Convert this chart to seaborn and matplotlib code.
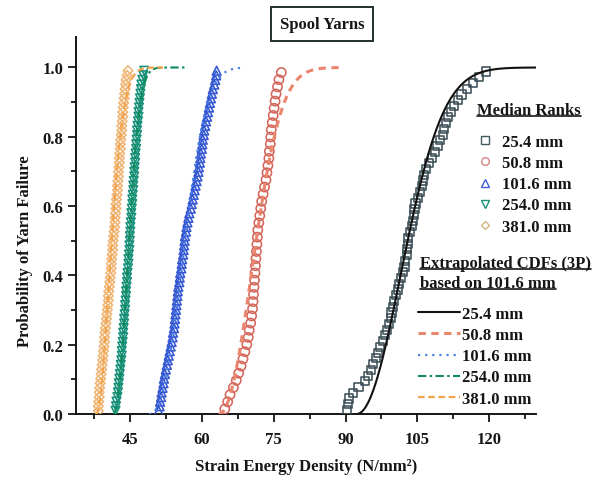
import numpy as np
import pandas as pd
import matplotlib
matplotlib.use("Agg")
import matplotlib.pyplot as plt
from matplotlib.lines import Line2D
from matplotlib.transforms import IdentityTransform
from matplotlib.ticker import MultipleLocator, FixedLocator
import seaborn as sns

# ---------------------------------------------------------------- data
gauge_labels = ["25.4 mm", "50.8 mm", "101.6 mm", "254.0 mm", "381.0 mm"]

# Sorted strain energy density at failure (N/mm^2) for each gauge length
sed_25_4 = [
    90.3, 90.5, 90.7, 91.6, 92.7, 94.0, 94.7, 95.3, 95.8, 96.3,
    96.8, 97.2, 97.8, 98.3, 98.7, 99.1, 99.4, 99.6, 99.9, 100.2,
    100.5, 100.9, 101.2, 101.6, 102.0, 102.3, 102.5, 102.8, 102.9, 103.0,
    103.1, 103.4, 103.8, 104.1, 104.2, 104.4, 104.6, 105.1, 105.6, 106.0,
    106.2, 106.4, 106.8, 107.4, 108.0, 108.6, 109.2, 109.8, 110.3, 110.6,
    111.0, 111.4, 112.0, 112.6, 113.4, 114.2, 115.4, 116.6, 117.8, 119.4,
]
sed_50_8 = [
    64.8, 65.4, 65.9, 66.6, 67.2, 67.7, 68.2, 68.6, 69.0, 69.4,
    69.7, 69.9, 70.2, 70.4, 70.6, 70.7, 70.8, 70.9, 71.0, 71.1,
    71.2, 71.3, 71.4, 71.5, 71.6, 71.7, 71.9, 72.1, 72.3, 72.5,
    72.8, 73.1, 73.4, 73.6, 73.8, 74.0, 74.1, 74.3, 74.4, 74.5,
    74.7, 74.9, 75.1, 75.3, 75.5, 75.8, 76.1, 76.6,
]
sed_101_6 = [
    51.0, 51.2, 51.3, 51.5, 51.6, 51.8, 52.0, 52.1, 52.3, 52.5,
    52.7, 52.9, 53.1, 53.3, 53.5, 53.7, 53.9, 54.0, 54.2, 54.3,
    54.4, 54.5, 54.6, 54.7, 54.8, 54.9, 55.0, 55.1, 55.3, 55.4,
    55.5, 55.7, 55.8, 55.9, 56.1, 56.2, 56.3, 56.4, 56.5, 56.7,
    56.8, 57.0, 57.2, 57.4, 57.7, 57.9, 58.1, 58.3, 58.5, 58.7,
    58.9, 59.1, 59.3, 59.4, 59.6, 59.7, 59.8, 60.0, 60.1, 60.2,
    60.4, 60.5, 60.7, 60.9, 61.1, 61.3, 61.5, 61.7, 61.9, 62.1,
    62.3, 62.6, 62.8, 63.0, 63.1,
]
sed_254_0 = [
    42.0, 42.1, 42.2, 42.4, 42.5, 42.6, 42.7, 42.8, 42.9, 43.0,
    43.1, 43.2, 43.3, 43.3, 43.4, 43.5, 43.6, 43.6, 43.7, 43.8,
    43.8, 43.9, 44.0, 44.0, 44.1, 44.2, 44.2, 44.3, 44.4, 44.4,
    44.5, 44.6, 44.7, 44.7, 44.8, 44.9, 44.9, 45.0, 45.0, 45.1,
    45.1, 45.2, 45.3, 45.3, 45.4, 45.5, 45.5, 45.6, 45.7, 45.7,
    45.8, 45.9, 45.9, 46.0, 46.1, 46.1, 46.2, 46.3, 46.3, 46.4,
    46.5, 46.5, 46.6, 46.7, 46.8, 46.8, 46.9, 47.0, 47.1, 47.2,
    47.3, 47.4, 47.6, 47.8, 48.0,
]
sed_381_0 = [
    38.4, 38.4, 38.5, 38.6, 38.6, 38.7, 38.8, 38.9, 39.0, 39.1,
    39.2, 39.3, 39.4, 39.5, 39.6, 39.7, 39.7, 39.8, 39.9, 40.0,
    40.1, 40.2, 40.3, 40.4, 40.5, 40.5, 40.6, 40.7, 40.8, 40.9,
    41.0, 41.1, 41.1, 41.2, 41.3, 41.4, 41.4, 41.5, 41.6, 41.7,
    41.8, 41.9, 41.9, 42.0, 42.1, 42.1, 42.2, 42.3, 42.4, 42.4,
    42.5, 42.6, 42.6, 42.7, 42.8, 42.8, 42.9, 43.0, 43.0, 43.1,
    43.2, 43.3, 43.3, 43.4, 43.5, 43.5, 43.6, 43.7, 43.8, 43.9,
    44.0, 44.1, 44.2, 44.4, 44.6,
]

# Three-parameter Weibull CDFs extrapolated from the 101.6 mm fit
cdf_location = [92.3, 63.5, 49.0, 41.5, 38.0]
cdf_scale = [12.76, 9.31, 8.71, 3.91, 3.88]
cdf_shape = [2.04, 2.14, 2.43, 2.19, 1.89]
cdf_upper = [129.7, 89.0, 68.6, 57.1, 51.9]

x_ticks = [45, 60, 75, 90, 105, 120]
y_ticks = [0.0, 0.2, 0.4, 0.6, 0.8, 1.0]

# ---------------------------------------------------------------- tables
samples = [sed_25_4, sed_50_8, sed_101_6, sed_254_0, sed_381_0]
rank_frames = []
for label, sed in zip(gauge_labels, samples):
    n = len(sed)
    ranks = (np.arange(1, n + 1) - 0.3) / (n + 0.4)   # Bernard median ranks
    rank_frames.append(pd.DataFrame({"gauge": label, "sed": sed, "prob": ranks}))
ranks_df = pd.concat(rank_frames, ignore_index=True)

cdf_frames = []
for label, loc, scale, shape, upper in zip(gauge_labels, cdf_location, cdf_scale,
                                           cdf_shape, cdf_upper):
    xs = np.linspace(loc, upper, 400)
    fx = 1.0 - np.exp(-((xs - loc) / scale) ** shape)
    cdf_frames.append(pd.DataFrame({"gauge": label, "sed": xs, "prob": fx}))
cdf_df = pd.concat(cdf_frames, ignore_index=True)

# ---------------------------------------------------------------- style
sns.set_theme(style="ticks")
plt.rcParams.update({
    "font.family": ["Liberation Serif", "DejaVu Serif"],
    "font.weight": "bold",
    "axes.labelweight": "bold",
    "font.size": 12,
    "text.color": "#151515",
    "axes.edgecolor": "#151515",
    "xtick.color": "#151515",
    "ytick.color": "#151515",
    "axes.linewidth": 1.4,
})

marker_styles = {
    "25.4 mm": dict(marker="s", s=34, edgecolor="#3d4f57"),
    "50.8 mm": dict(marker="o", s=44, edgecolor="#d4675c"),
    "101.6 mm": dict(marker="^", s=40, edgecolor="#3558d2"),
    "254.0 mm": dict(marker="v", s=38, edgecolor="#17907a"),
    "381.0 mm": dict(marker="D", s=24, edgecolor="#f0b574"),
}
legend_marker_colors = ["#3e5a5c", "#d58585", "#4060d8", "#1e9078", "#d2b682"]

line_styles = {
    "25.4 mm": dict(color="#111111", linestyle="-", linewidth=1.5),
    "50.8 mm": dict(color="#ea866e", linestyle=(0, (2.4, 1.8)), linewidth=2.2),
    "101.6 mm": dict(color="#4d84e6", linestyle=(0, (1.0, 2.2)), linewidth=1.6),
    "254.0 mm": dict(color="#0f8a5c", linestyle=(0, (4.0, 1.6, 1.2, 1.6)), linewidth=1.5),
    "381.0 mm": dict(color="#f3a34a", linestyle=(0, (3.0, 1.6)), linewidth=1.6),
}

fig = plt.figure(figsize=(5.97, 4.81), dpi=100)
fig.patch.set_facecolor("white")
ax = fig.add_axes([76 / 597, 1 - 415 / 481, 460 / 597, 377 / 481])

# ---------------------------------------------------------------- marks
for label in gauge_labels:
    st = marker_styles[label]
    sub = ranks_df[ranks_df["gauge"] == label]
    sns.scatterplot(data=sub, x="sed", y="prob", marker=st["marker"], s=st["s"],
                    facecolor="none", edgecolor=st["edgecolor"], linewidth=1.15,
                    ax=ax, zorder=3, legend=False)

for label in gauge_labels:
    st = line_styles[label]
    sub = cdf_df[cdf_df["gauge"] == label]
    sns.lineplot(data=sub, x="sed", y="prob", estimator=None, sort=False,
                 color=st["color"], linestyle=st["linestyle"],
                 linewidth=st["linewidth"], ax=ax, zorder=4, legend=False)

# ---------------------------------------------------------------- axes
ax.set_xlim(33.75, 129.75)
ax.set_ylim(0, 1.088)
ax.xaxis.set_major_locator(FixedLocator(x_ticks))
ax.xaxis.set_minor_locator(MultipleLocator(7.5))
ax.yaxis.set_major_locator(FixedLocator(y_ticks))
ax.yaxis.set_minor_locator(MultipleLocator(0.1))
ax.set_xticklabels([str(v) for v in x_ticks])
ax.set_yticklabels([f"{v:.1f}" for v in y_ticks])
ax.tick_params(axis="both", which="major", direction="out", length=5.5,
               width=1.3, labelsize=12)
ax.tick_params(axis="x", which="major", pad=7)
ax.tick_params(axis="y", which="major", pad=3.5)
ax.tick_params(axis="both", which="minor", direction="out", length=3.5, width=1.3)
for lab in ax.get_xticklabels() + ax.get_yticklabels():
    lab.set_fontweight("bold")
sns.despine(ax=ax)
ax.set_facecolor("white")
ax.set_xlabel("")
ax.set_ylabel("")

fig.text(306 / 597, 1 - 467 / 481, "Strain Energy Density (N/mm²)",
         ha="center", va="center", fontsize=12, fontweight="bold")
fig.text(25 / 597, 1 - 251 / 481, "Probability of Yarn Failure", rotation=90,
         ha="center", va="center", fontsize=12, fontweight="bold")
fig.text(322 / 597, 1 - 25 / 481, "Spool Yarns", ha="center", va="center",
         fontsize=12, fontweight="bold",
         bbox=dict(boxstyle="square,pad=0.55", facecolor="white",
                   edgecolor="#223030", linewidth=1.4))

# ---------------------------------------------------------------- legends
marker_handles = [
    Line2D([], [], linestyle="none", marker=marker_styles[g]["marker"],
           markersize=5.5 if marker_styles[g]["marker"] != "D" else 4.5,
           markerfacecolor="none", markeredgecolor=c, markeredgewidth=1.0)
    for g, c in zip(gauge_labels, legend_marker_colors)
]
leg1 = fig.legend(marker_handles, gauge_labels, loc="upper left",
                  bbox_to_anchor=(477 / 597, 1 - 135 / 481), frameon=False,
                  handlelength=1.0, handletextpad=0.5, labelspacing=0.31,
                  borderpad=0, borderaxespad=0,
                  prop=dict(size=12, weight="bold"))

line_handles = [Line2D([], [], **line_styles[g]) for g in gauge_labels]
leg2 = fig.legend(line_handles, gauge_labels, loc="upper left",
                  bbox_to_anchor=(418 / 597, 1 - 307 / 481), frameon=False,
                  handlelength=2.5, handletextpad=0.12, labelspacing=0.31,
                  borderpad=0, borderaxespad=0,
                  prop=dict(size=12, weight="bold"))

heading_specs = [
    ("Median Ranks", 477, 111),
    ("Extrapolated CDFs (3P)", 420, 264),
    ("based on 101.6 mm", 420, 284),
]
headings = [fig.text(x / 597, 1 - y / 481, s, ha="left", va="center",
                     fontsize=12, fontweight="bold")
            for s, x, y in heading_specs]

fig.canvas.draw()
renderer = fig.canvas.get_renderer()
for t in headings:
    bb = t.get_window_extent(renderer)
    yu = bb.y0 + 2.0
    fig.add_artist(Line2D([bb.x0, bb.x1], [yu, yu], color="#151515",
                          linewidth=1.2, transform=IdentityTransform()))

fig.savefig("out.png", dpi=100, facecolor="white")
